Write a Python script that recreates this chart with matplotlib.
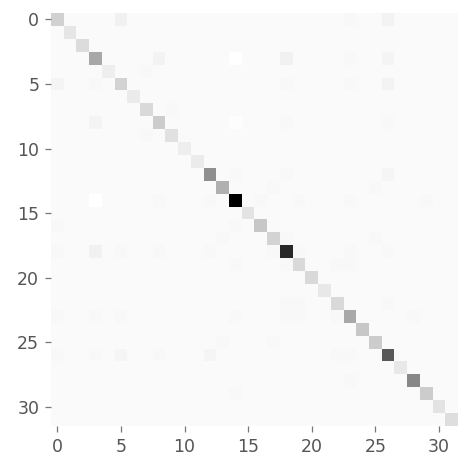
import numpy as np
import matplotlib
matplotlib.use("Agg")
import matplotlib.pyplot as plt

# darkness of each cell (0 = white, 1 = black)
n_classes = 32
background = 0.02
diag_vals = [0.18, 0.10, 0.14, 0.34, 0.07, 0.17, 0.08, 0.15, 0.20, 0.12,
             0.07, 0.08, 0.44, 0.31, 1.00, 0.11, 0.22, 0.17, 0.84, 0.15,
             0.15, 0.09, 0.15, 0.34, 0.22, 0.20, 0.65, 0.09, 0.47, 0.20,
             0.11, 0.13]
off_rows = [0, 0, 0, 3, 3, 3, 3, 3, 4, 5, 5, 5, 5, 5, 7, 8, 8, 8, 8, 9,
            12, 12, 12, 13, 13, 14, 14, 14, 14, 14, 14, 14, 16, 16,
            17, 17, 17, 18, 18, 18, 18, 18, 18, 18, 18, 18, 19, 19, 19, 19,
            22, 22, 22, 23, 23, 23, 23, 23, 23, 23, 23, 25, 25,
            26, 26, 26, 26, 26, 26, 26, 28, 29]
off_cols = [5, 23, 26, 8, 14, 18, 23, 26, 7, 0, 3, 18, 23, 26, 9, 3, 14, 18, 26, 7,
            14, 18, 26, 17, 25, 3, 8, 12, 16, 19, 23, 29, 0, 14,
            13, 18, 25, 0, 3, 5, 8, 12, 17, 19, 23, 26, 14, 18, 22, 23,
            18, 19, 26, 0, 3, 5, 14, 18, 19, 22, 28, 13, 17,
            0, 3, 5, 8, 12, 22, 23, 23, 14]
off_vals = [0.055, 0.03, 0.05, 0.05, 0.0, 0.055, 0.03, 0.045, 0.03, 0.045, 0.03, 0.03, 0.03, 0.05, 0.03, 0.045, 0.01, 0.03, 0.03, 0.03,
            0.03, 0.03, 0.04, 0.03, 0.03, 0.0, 0.03, 0.03, 0.03, 0.03, 0.03, 0.03, 0.03, 0.03,
            0.03, 0.03, 0.03, 0.03, 0.055, 0.03, 0.03, 0.03, 0.03, 0.03, 0.03, 0.03, 0.03, 0.03, 0.03, 0.03,
            0.03, 0.03, 0.03, 0.03, 0.03, 0.03, 0.03, 0.03, 0.03, 0.03, 0.03, 0.03, 0.03,
            0.03, 0.03, 0.04, 0.03, 0.04, 0.03, 0.03, 0.03, 0.03]
tick_vals = [0, 5, 10, 15, 20, 25, 30]

mat = np.full((n_classes, n_classes), background)
mat[np.arange(n_classes), np.arange(n_classes)] = diag_vals
mat[off_rows, off_cols] = off_vals

fig = plt.figure(figsize=(4.58, 4.59), dpi=100)
ax = fig.add_axes([51 / 458, 33 / 459, 407 / 458, 413 / 459])
ax.imshow(mat, cmap="gray_r", vmin=0, vmax=1, aspect="auto", interpolation="nearest")

for s in ax.spines.values():
    s.set_visible(False)
ax.set_xticks(tick_vals)
ax.set_yticks(tick_vals)
ax.tick_params(color="#777777", labelcolor="#555555", labelsize=12.5,
               length=4.5, width=0.9, pad=4)

fig.savefig("out.png", dpi=100)
